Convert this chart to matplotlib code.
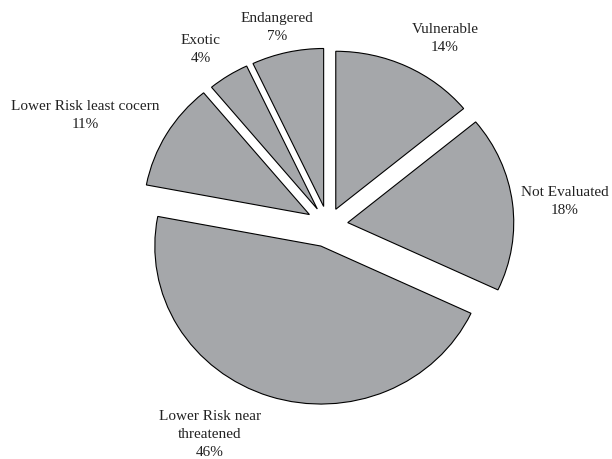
import matplotlib
matplotlib.use('Agg')
import matplotlib.pyplot as plt

# Conservation status shares (percent), clockwise from the top
categories = ['Vulnerable', 'Not Evaluated', 'Lower Risk near\nthreatened',
              'Lower Risk least cocern', 'Exotic', 'Endangered']
shares = [14, 18, 46, 11, 4, 7]
explode = [0.11, 0.12, 0.14, 0.13, 0.12, 0.12]

# label anchor points in axes data units
label_xy = [(0.705, 1.18), (1.428, 0.146), (-0.711, -1.323),
            (-1.464, 0.69), (-0.765, 1.108), (-0.307, 1.25)]

plt.rcParams['font.family'] = ['Liberation Serif', 'DejaVu Serif']

fig = plt.figure(figsize=(6.12, 4.59), dpi=100)
ax = fig.add_axes([0, 0, 1, 1])

wedges, _ = ax.pie(shares, explode=explode, startangle=90, counterclock=False,
                   colors=['#a5a7aa'] * len(shares),
                   wedgeprops=dict(edgecolor='black', linewidth=0.8))

for name, val, (x, y) in zip(categories, shares, label_xy):
    ax.text(x, y, f'{name}\n{val}%', ha='center', va='center',
            fontsize=11, linespacing=1.5, color='#222222')

# slightly wider than tall, pie centre off to the right
ax.set_aspect('auto')
ax.set_xlim(-1.976, 1.711)
ax.set_ylim(-1.481, 1.424)
ax.axis('off')

fig.savefig('out.png', dpi=100)
